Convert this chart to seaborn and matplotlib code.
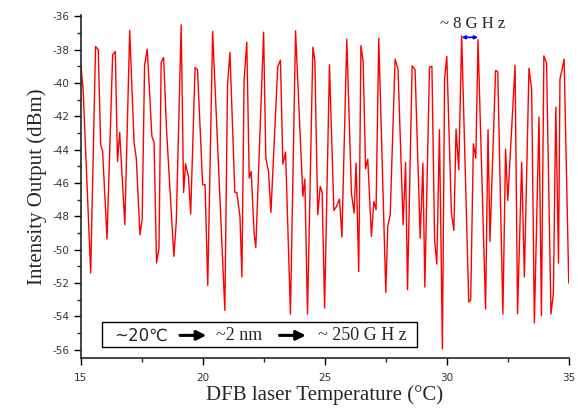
import numpy as np
import pandas as pd
import matplotlib
matplotlib.use("Agg")
import matplotlib.pyplot as plt
import seaborn as sns
from matplotlib.ticker import MultipleLocator
from matplotlib.patches import Rectangle

# valores (temperatura em C, potencia em dBm)
temperatura = [
    15.00, 15.09, 15.40, 15.60, 15.71, 15.81, 15.89, 16.07, 16.30, 16.41,
    16.50, 16.59, 16.80, 17.00, 17.18, 17.27, 17.42, 17.51, 17.61, 17.72,
    17.91, 18.00, 18.10, 18.20, 18.29, 18.39, 18.51, 18.81, 18.91, 19.11,
    19.21, 19.29, 19.41, 19.50, 19.68, 19.78, 19.99, 20.09, 20.20, 20.40,
    20.90, 21.01, 21.11, 21.31, 21.39, 21.52, 21.60, 21.69, 21.80, 21.90,
    21.98, 22.10, 22.17, 22.49, 22.58, 22.69, 22.79, 23.07, 23.18, 23.28,
    23.39, 23.59, 23.80, 24.10, 24.18, 24.29, 24.51, 24.59, 24.71, 24.81,
    24.89, 24.99, 25.19, 25.37, 25.48, 25.60, 25.70, 25.90, 26.09, 26.20,
    26.28, 26.39, 26.48, 26.57, 26.67, 26.76, 26.91, 27.01, 27.10, 27.21,
    27.50, 27.58, 27.68, 27.88, 28.00, 28.21, 28.31, 28.39, 28.58, 28.70,
    28.91, 29.02, 29.10, 29.29, 29.39, 29.50, 29.59, 29.70, 29.82, 29.91,
    30.00, 30.19, 30.29, 30.38, 30.49, 30.61, 30.90, 30.98, 31.09, 31.19,
    31.28, 31.59, 31.69, 31.77, 32.00, 32.09, 32.30, 32.41, 32.50, 32.80,
    32.90, 33.07, 33.18, 33.37, 33.48, 33.59, 33.78, 33.88, 33.98, 34.09,
    34.27, 34.37, 34.47, 34.58, 34.64, 34.81, 35.00,
]
potencia = [
    -38.94, -40.40, -51.40, -37.80, -38.00, -43.70, -44.10, -49.36, -38.30, -38.10,
    -44.70, -42.96, -48.50, -36.84, -43.60, -44.50, -49.10, -48.20, -38.90, -37.96,
    -43.20, -43.56, -50.80, -49.90, -38.76, -38.46, -42.80, -50.40, -48.30, -36.50,
    -46.56, -44.84, -45.60, -47.86, -39.06, -39.20, -46.10, -46.10, -52.14, -36.90,
    -53.64, -40.10, -38.16, -46.56, -46.56, -48.00, -51.64, -39.80, -37.54, -45.70,
    -45.30, -49.00, -49.86, -36.94, -44.50, -45.30, -47.76, -39.00, -38.62, -44.86,
    -44.14, -53.86, -36.86, -46.80, -45.76, -53.86, -37.84, -38.64, -47.90, -46.20,
    -46.56, -53.50, -38.90, -47.64, -47.40, -46.96, -49.24, -37.36, -46.60, -47.80,
    -44.80, -51.30, -37.74, -38.70, -45.14, -44.56, -49.20, -47.10, -47.60, -37.30,
    -52.56, -48.60, -47.90, -38.56, -39.16, -48.50, -44.76, -52.40, -38.96, -39.20,
    -49.30, -44.80, -52.24, -39.04, -39.00, -49.40, -50.86, -42.80, -55.96, -39.70,
    -38.40, -47.80, -48.84, -42.76, -45.20, -37.16, -53.14, -53.00, -43.64, -44.50,
    -37.40, -53.56, -42.80, -49.50, -39.24, -39.32, -53.86, -43.96, -47.04, -38.92,
    -53.84, -44.76, -51.64, -39.10, -40.40, -54.40, -42.04, -53.96, -38.36, -38.80,
    -53.86, -52.60, -41.44, -50.80, -39.76, -38.56, -52.00,
]

# seta do espacamento entre picos (~8 GHz)
seta_x = [30.61, 31.28]
seta_y = -37.25

df = pd.DataFrame({'temperatura': temperatura, 'potencia': potencia})

sns.set_style("ticks")
plt.rcParams['font.family'] = ['DejaVu Sans']
plt.rcParams['axes.unicode_minus'] = False

fig = plt.figure(figsize=(5.78, 4.12), dpi=100)
ax = fig.add_axes([0.140, 0.131, 0.844, 0.833])

sns.lineplot(data=df, x='temperatura', y='potencia', ax=ax, color='#ff0000',
             linewidth=1.0, estimator=None, sort=False)

ax.set_xlim(15, 35)
ax.set_ylim(-56.5, -35.9)
ax.xaxis.set_major_locator(MultipleLocator(5))
ax.xaxis.set_minor_locator(MultipleLocator(2.5))
ax.yaxis.set_major_locator(MultipleLocator(2))
ax.yaxis.set_minor_locator(MultipleLocator(1))
ax.tick_params(which='major', direction='out', length=5, width=1, labelsize=7.5,
               labelcolor='#333333', colors='black')
ax.tick_params(which='minor', direction='out', length=3, width=1)
ax.tick_params(axis='y', labelcolor='#333333')
ax.tick_params(axis='x', pad=6)

for lado in ['top', 'right']:
    ax.spines[lado].set_visible(False)
for lado in ['left', 'bottom']:
    ax.spines[lado].set_linewidth(1.2)

ax.set_xlabel('DFB laser Temperature (°C)', family='Liberation Serif', fontsize=15, labelpad=1)
ax.set_ylabel('Intensity Output (dBm)', family='Liberation Serif', fontsize=15, labelpad=4)

# seta azul e texto ~8 GHz
ax.annotate('', xy=(seta_x[0], seta_y), xytext=(seta_x[1], seta_y),
            arrowprops=dict(arrowstyle='<|-|>', color='#0000ff', lw=1.2,
                            mutation_scale=5, shrinkA=0, shrinkB=0))
ax.text(31.05, -36.45, '~ 8 G H z', family='Liberation Serif', fontsize=12,
        ha='center', va='center')

# caixa com a conversao ~20C -> ~2 nm -> ~250 GHz
ax.add_patch(Rectangle((0.043, 0.032), 0.645, 0.073, transform=ax.transAxes,
                       fc='white', ec='black', lw=1, zorder=3))
yc = 0.066
ax.text(0.123, yc, '~20℃', transform=ax.transAxes, family='DejaVu Sans',
        fontsize=12, ha='center', va='center', zorder=4)
ax.text(0.324, yc, '~2 nm', transform=ax.transAxes, family='Liberation Serif',
        fontsize=13, ha='center', va='center', zorder=4)
ax.text(0.576, yc, '~ 250 G H z', transform=ax.transAxes, family='Liberation Serif',
        fontsize=13, ha='center', va='center', zorder=4)
for x0, x1 in [(0.203, 0.257), (0.407, 0.461)]:
    ax.annotate('', xy=(x1, yc), xytext=(x0, yc), xycoords='axes fraction',
                arrowprops=dict(arrowstyle='-|>', color='black', lw=2.2,
                                mutation_scale=14, shrinkA=0, shrinkB=0), zorder=4)

fig.savefig('out.png', dpi=100)
